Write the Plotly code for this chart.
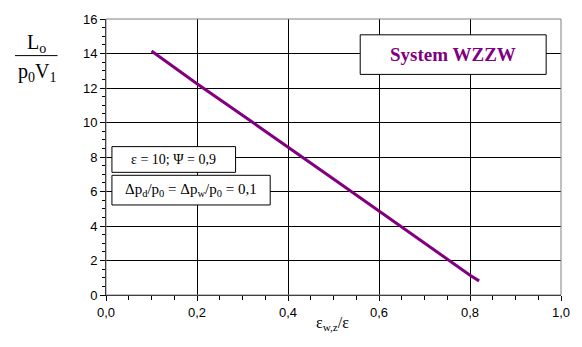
import plotly.graph_objects as go

# Work ratio L_o/(p0 V1) against relative expansion ratio, system WZZW
eps_ratio = [0.10, 0.20, 0.30, 0.40, 0.50, 0.60, 0.70, 0.80, 0.82]
work_ratio = [14.15, 12.25, 10.42, 8.60, 6.73, 4.87, 3.00, 1.15, 0.82]

x_ticks = [0.0, 0.2, 0.4, 0.6, 0.8, 1.0]
y_ticks = [0, 2, 4, 6, 8, 10, 12, 14, 16]

PURPLE = "#800080"
W, H = 582, 347
L, R, T, B = 106, 16, 16, 52
PW, PH = W - L - R, H - T - B


def px(x):
    return (x - L) / PW


def py(y):
    return (H - B - y) / PH


fig = go.Figure()
fig.add_trace(go.Scatter(
    x=eps_ratio, y=work_ratio, mode="lines",
    line=dict(color=PURPLE, width=3), hoverinfo="skip", showlegend=False,
))

axis_common = dict(
    showgrid=True, gridcolor="black", gridwidth=1,
    showline=True, linecolor="black", linewidth=1,
    ticks="outside", ticklen=5, tickcolor="black", tickwidth=1,
    zeroline=False,
    tickfont=dict(family="Liberation Sans, Arial", size=13, color="black"),
)

fig.update_xaxes(
    range=[0, 1], tickvals=x_ticks, tickformat=".1f",
    minor=dict(dtick=0.05, ticks="outside", ticklen=4, tickcolor="black", showgrid=False),
    **axis_common,
)
fig.update_yaxes(
    range=[0, 16], tickvals=y_ticks,
    minor=dict(dtick=0.5, ticks="outside", ticklen=3, tickcolor="black", showgrid=False),
    **axis_common,
)

shapes = [
    # plot frame (top / right)
    dict(type="rect", xref="paper", yref="paper", x0=0, x1=1, y0=0, y1=1,
         line=dict(color="#808080", width=1), layer="above"),
    # fraction bar of the y-axis title
    dict(type="line", xref="paper", yref="paper", x0=px(14), x1=px(57), y0=py(53), y1=py(53),
         line=dict(color="black", width=1)),
    # text boxes
    dict(type="rect", xref="paper", yref="paper", x0=px(363), x1=px(551), y0=py(72), y1=py(32),
         line=dict(color="black", width=1), fillcolor="white", layer="above"),
    dict(type="rect", xref="paper", yref="paper", x0=px(112), x1=px(237), y0=py(171), y1=py(145),
         line=dict(color="black", width=1), fillcolor="white", layer="above"),
    dict(type="rect", xref="paper", yref="paper", x0=px(112), x1=px(272), y0=py(204), y1=py(174),
         line=dict(color="black", width=1), fillcolor="white", layer="above"),
]

serif = "Liberation Serif, Times New Roman, serif"


def label(text, x, y, size, color="black"):
    return dict(text=text, x=px(x), y=py(y), xref="paper", yref="paper",
                xanchor="center", yanchor="middle", showarrow=False,
                font=dict(family=serif, size=size, color=color))


annotations = [
    label("L<sub>o</sub>", 36, 41, 20),
    label("p<sub>0</sub>V<sub>1</sub>", 36, 70, 20),
    label("ε<sub>w,z</sub>/ε", 335, 324, 16),
    label("<b>System WZZW</b>", 457, 52, 19, PURPLE),
    label("ε = 10; Ψ = 0,9", 174, 158, 14),
    label("Δp<sub>d</sub>/p<sub>0</sub> = Δp<sub>w</sub>/p<sub>0</sub> = 0,1", 192, 189, 15),
]

fig.update_layout(
    width=W, height=H,
    margin=dict(l=L, r=R, t=T, b=B, pad=0),
    paper_bgcolor="white", plot_bgcolor="white",
    separators=",.",
    shapes=shapes, annotations=annotations,
    showlegend=False,
)

fig.write_html("out.html", config={"displayModeBar": False})
